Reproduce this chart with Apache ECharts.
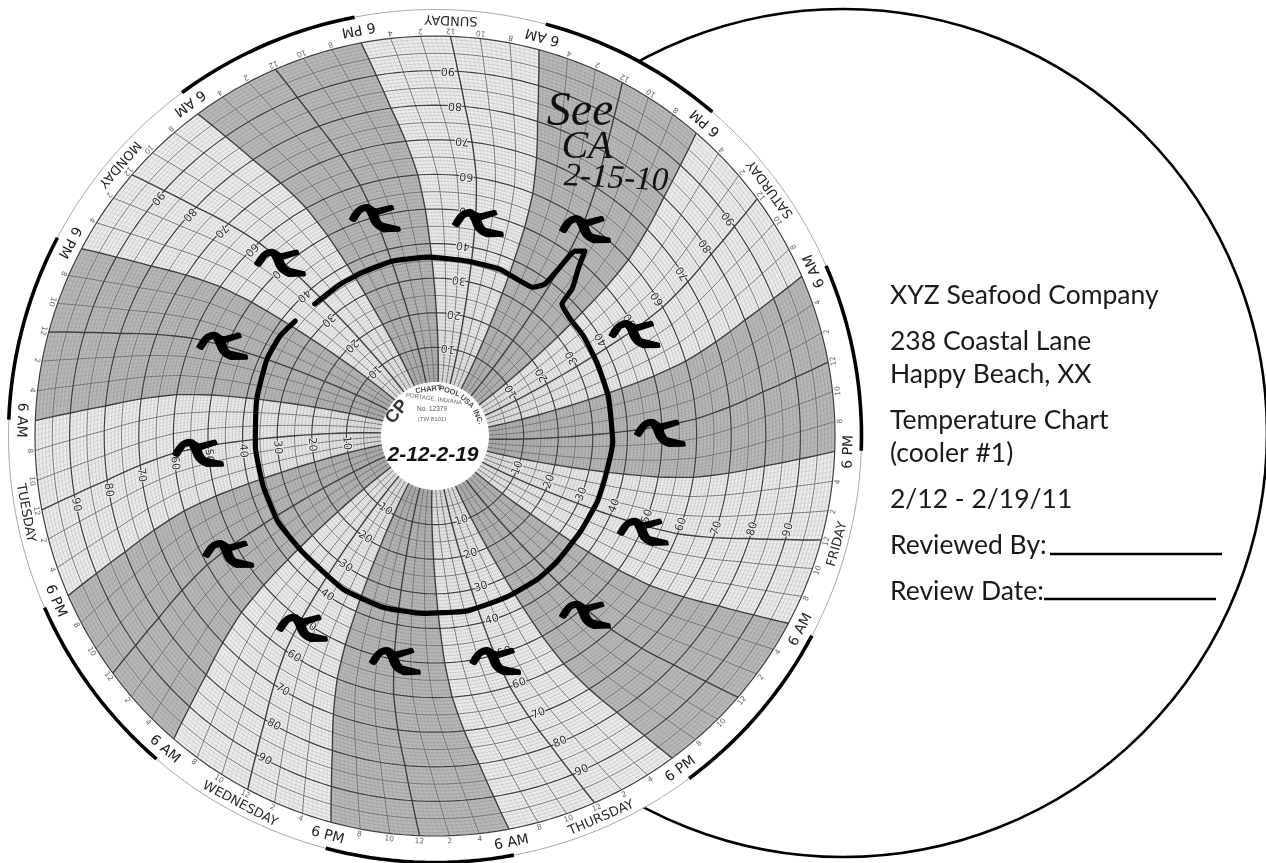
<!DOCTYPE html>
<html><head><meta charset="utf-8">
<style>html,body{margin:0;padding:0;background:#fff}#c{width:1266px;height:863px}</style>
<script src="https://cdn.jsdelivr.net/npm/echarts@6/dist/echarts.min.js"></script>
</head><body><div id="c"></div>
<script>
// ---- data ----
const dayNames = ['SUNDAY','MONDAY','TUESDAY','WEDNESDAY','THURSDAY','FRIDAY','SATURDAY']; // going anticlockwise
const hourLabels = ['12','2','4','6 PM','8','10','12','2','4','6 AM','8','10'];            // from noon, anticlockwise
const tempTicks = [10,20,30,40,50,60,70,80,90];
const spokeBendTemps = [0,10,20,30,40,50,60,70,80,90,100];
const spokeBendDeg   = [14,12.6,11.3,10.2,9.2,8.2,6.9,5,3,1.4,0];
const penAngle = [317.7,328,336.3,346.5,358.4,370.4,381.3,388.7,393.3,395.9,396.5,397.1,399,400.6,403,403.9,409,416,425.4,437,452,464,472,483.5,495.9,504.5,515.9,529.6,543.9,556.9,571,588.7,601.3,613.8,626.8,641.7,654.6,662.8,669.4];
const penTemp  = [36,36.1,36.1,36.4,36.1,35.8,36.1,35.5,35.8,38.7,45.1,51.4,53.2,48,42.5,37.3,36.1,36.1,35.8,35.8,35.8,35,35,34.7,35,35.3,35.3,35.8,35.8,36.1,36,35.3,36.1,36.1,36.4,37,37.8,37.7,36.7];
const markAngle = [344.7,11.3,35.7,62.5,88.7,114.3,139.7,164.9,190.2,215,240.7,266.4,293.4,318.5];
const markTemp  = [50.3,47.7,58.7,49.4,49.4,50.3,51.4,51.2,49.9,51.4,52.9,53,51.4,52];
const infoLines = [
  ['XYZ Seafood Company',303.5],['238 Coastal Lane',350],['Happy Beach, XX',382.5],
  ['Temperature Chart',429],['(cooler #1)',462],['2/12 - 2/19/11',508],
  ['Reviewed By:',554],['Review Date:',599.5]
];
// ---- layout ----
const CX=435, CY=436, R0=54, R100=400, DISK=426.5;
const TMAX=(DISK-R0)/((R100-R0)/100);
const STEP=360/84, NOON=2.2, HALF=360/14;
const RAD=Math.PI/180;
function bend(T){
  T=Math.max(0,Math.min(100,T));
  const i=Math.min(9,Math.floor(T/10));
  const f=(T-spokeBendTemps[i])/10;
  return spokeBendDeg[i]+(spokeBendDeg[i+1]-spokeBendDeg[i])*f;
}
const seq=(a,b,s)=>{const o=[];for(let v=a;v<=b+1e-9;v+=s)o.push(v);return o;};
const sweep=seq(0,100,2.5);

function polyItem(pts,style,closed){
  return {type:closed?'polygon':'polyline',shape:{points:pts},style:style,silent:true};
}
function ringSeries(list,style,z){
  return {type:'custom',coordinateSystem:'polar',silent:true,z:z,clip:false,
    data:list.map(T=>[T,0]),
    renderItem:(p,api)=>{
      const T=api.value(0),pts=[];
      for(let a=0;a<=360;a+=1.5)pts.push(api.coord([T,a%360]));
      return polyItem(pts,style,false);
    }};
}
function spokeSeries(list,style,z){
  return {type:'custom',coordinateSystem:'polar',silent:true,z:z,clip:false,
    data:list.map(a=>[0,a]),
    renderItem:(p,api)=>{
      const a=api.value(1);
      return polyItem(sweep.map(T=>api.coord([T,(a+bend(T)+720)%360])),style,false);
    }};
}
function textSeries(items,z){
  return {type:'custom',coordinateSystem:'polar',silent:true,z:z,clip:false,
    data:items.map(d=>[d.T,d.a]),
    renderItem:(p,api)=>{
      const d=items[p.dataIndex],c=api.coord([d.T,(d.a+720)%360]);
      return {type:'text',x:c[0],y:c[1],rotation:-(d.a+180)*RAD,silent:true,
        style:Object.assign({text:d.t,align:'center',verticalAlign:'middle',fontFamily:'DejaVu Sans'},d.s)};
    }};
}
const bands=seq(0,13,1).map(k=>({a:NOON-3*STEP+k*HALF,night:k%2===1}));
const bandSeries={type:'custom',coordinateSystem:'polar',silent:true,z:2,clip:false,
  data:bands.map(b=>[0,b.a]),
  renderItem:(p,api)=>{
    const b=bands[p.dataIndex],pts=[];
    const C=(T,a)=>api.coord([T,(a+720)%360]);
    sweep.forEach(T=>pts.push(C(T,b.a+bend(T))));
    for(let a=b.a;a<=b.a+HALF;a+=1.5)pts.push(C(100,a));
    sweep.slice().reverse().forEach(T=>pts.push(C(T,b.a+HALF+bend(T))));
    for(let a=b.a+HALF;a>=b.a;a-=1.5)pts.push(C(0,a+bend(0)));
    return polyItem(pts,{fill:b.night?'#b8b8b8':'#ececec',stroke:null},true);
  }};
const nightArcs={type:'custom',coordinateSystem:'polar',silent:true,z:8,clip:false,
  data:bands.filter(b=>b.night).map(b=>[TMAX,b.a]),
  renderItem:(p,api)=>{
    const a=api.value(1),pts=[];
    for(let x=a;x<=a+HALF+0.01;x+=1.5)pts.push(api.coord([TMAX,(x+720)%360]));
    return polyItem(pts,{fill:null,stroke:'#000',lineWidth:3.6,lineCap:'butt'},false);
  }};

const allSpokes=seq(0,83,1);
const fine=seq(0,503,1).filter(i=>i%6!==0).map(i=>NOON+i*STEP/6);
const minor=allSpokes.filter(i=>(i%3)!==0).map(i=>NOON+i*STEP);
const major=allSpokes.filter(i=>(i%3)===0).map(i=>NOON+i*STEP);

const tempItems=[],rimItems=[];
dayNames.forEach((name,d)=>{
  const noon=NOON-d*2*HALF;
  tempTicks.forEach(T=>{
    const r=R0+(R100-R0)*T/100;
    tempItems.push({T:T,a:noon+bend(T)-(10/r)/RAD,t:String(T),
      s:{fontSize:11,fill:'#333',stroke:'#eeeeee',lineWidth:2}});
  });
  rimItems.push({T:104.8,a:noon,t:name,s:{fontSize:13,fill:'#2a2a2a'}});
  hourLabels.forEach((h,i)=>{
    const a=noon-i*STEP;
    if(h.length>2) rimItems.push({T:104,a:a,t:h,s:{fontSize:14,fill:'#222'}});
    else rimItems.push({T:101.6,a:a,t:h,s:{fontSize:7.5,fill:'#666'}});
  });
});

const markPath='path://M32 84 Q50 50 68 44 Q85 38 92 46 L108 56 L158 44 L162 54 L112 70 Q116 90 128 98 L180 110 L182 120 L135 121 Q110 112 100 92 Q92 70 84 58 Q70 55 60 64 L42 90 Z';

const graphicEls=[
  {type:'circle',z:0,shape:{cx:843,cy:433,r:424},style:{fill:'#fff',stroke:'#000',lineWidth:2.6},silent:true},
  {type:'circle',z:1,shape:{cx:CX,cy:CY-0.5,r:DISK},style:{fill:'#fff'},silent:true},
];
infoLines.forEach(l=>graphicEls.push({type:'text',z:20,x:890,y:l[1]+5,silent:true,
  style:{text:l[0],fontFamily:'Lato',fontSize:26.5,fontWeight:400,fill:'#1a1a1a',align:'left',verticalAlign:'bottom'}}));
graphicEls.push({type:'line',z:20,shape:{x1:1050,y1:554,x2:1222,y2:554},style:{stroke:'#000',lineWidth:2.6},silent:true});
graphicEls.push({type:'line',z:20,shape:{x1:1044,y1:599,x2:1216,y2:599},style:{stroke:'#000',lineWidth:2.6},silent:true});
const hand=(t,x,y,size,rot,w)=>({type:'text',z:30,x:x,y:y,rotation:(rot||0)*RAD,silent:true,
  style:{text:t,fontFamily:'Liberation Serif',fontStyle:'italic',fontWeight:w||'normal',fontSize:size,fill:'#111',align:'center',verticalAlign:'middle'}});
graphicEls.push(hand('See',580,112,48,0),hand('CA',587,147,40,0),hand('2-15-10',616,179,33,-3));
graphicEls.push({type:'text',z:30,x:433,y:455,silent:true,
  style:{text:'2-12-2-19',fontFamily:'Liberation Sans',fontStyle:'italic',fontWeight:'bold',fontSize:21,fill:'#111',align:'center',verticalAlign:'middle'}});
const small=(t,x,y,size,rot,w,fill)=>({type:'text',z:30,x:x,y:y,rotation:rot*RAD,silent:true,
  style:{text:t,fontFamily:'Liberation Sans',fontWeight:w||'normal',fontSize:size,fill:fill||'#555',align:'center',verticalAlign:'middle'}});
graphicEls.push(small('CP',397,412,18,50,'bold','#333'));
[['CHART',-8],['POOL',18],['USA',43],['INC.',66]].forEach(w=>{
  const r=47,a=w[1]*RAD;
  graphicEls.push(small(w[0],CX+r*Math.sin(a),CY-r*Math.cos(a),7.5,-w[1],'bold','#444'));
});
graphicEls.push(small('PORTAGE, INDIANA',434,399,6,-8,'normal','#666'));
graphicEls.push(small('No. 12379',432,409,6.5,0,'normal','#555'));
graphicEls.push(small('(TW 8101)',432,419,6,0,'normal','#666'));

const chart=echarts.init(document.getElementById('c'),null,{renderer:'canvas'});
chart.setOption({
  animation:false,
  backgroundColor:'#fff',
  polar:{center:[CX,CY],radius:[R0,DISK]},
  radiusAxis:{min:0,max:TMAX,show:false,axisLine:{show:false},axisTick:{show:false},axisLabel:{show:false},splitLine:{show:false}},
  angleAxis:{type:'value',min:0,max:360,startAngle:90,clockwise:true,show:false,axisLine:{show:false},axisTick:{show:false},axisLabel:{show:false},splitLine:{show:false}},
  graphic:{elements:graphicEls},
  series:[
    bandSeries,
    ringSeries(seq(1,99,1).filter(t=>t%5!==0),{fill:null,stroke:'rgba(70,70,70,0.33)',lineWidth:0.5},3),
    spokeSeries(fine,{fill:null,stroke:'rgba(70,70,70,0.18)',lineWidth:0.5},3),
    ringSeries(seq(5,95,10),{fill:null,stroke:'#6e6e6e',lineWidth:0.9},4),
    spokeSeries(minor,{fill:null,stroke:'#6e6e6e',lineWidth:0.9},4),
    ringSeries(seq(10,100,10),{fill:null,stroke:'#3e3e3e',lineWidth:1.2},5),
    spokeSeries(major,{fill:null,stroke:'#3e3e3e',lineWidth:1.4},5),
    ringSeries([TMAX],{fill:null,stroke:'#aaaaaa',lineWidth:1},6),
    nightArcs,
    textSeries(tempItems,7),
    textSeries(rimItems,7),
    {type:'line',coordinateSystem:'polar',z:9,silent:true,symbol:'none',smooth:0.15,clip:false,
     data:penTemp.map((T,i)=>[T,penAngle[i]%360]),
     lineStyle:{color:'#000',width:5.2,cap:'round',join:'round'}},
    {type:'scatter',coordinateSystem:'polar',z:10,silent:true,symbol:markPath,symbolSize:[48,26],symbolKeepAspect:false,symbolOffset:[0,2],
     data:markTemp.map((T,i)=>[T,markAngle[i]]),
     itemStyle:{color:'#000',borderColor:'#000',borderWidth:3,borderJoin:'round',opacity:1}}
  ]
});
</script></body></html>
